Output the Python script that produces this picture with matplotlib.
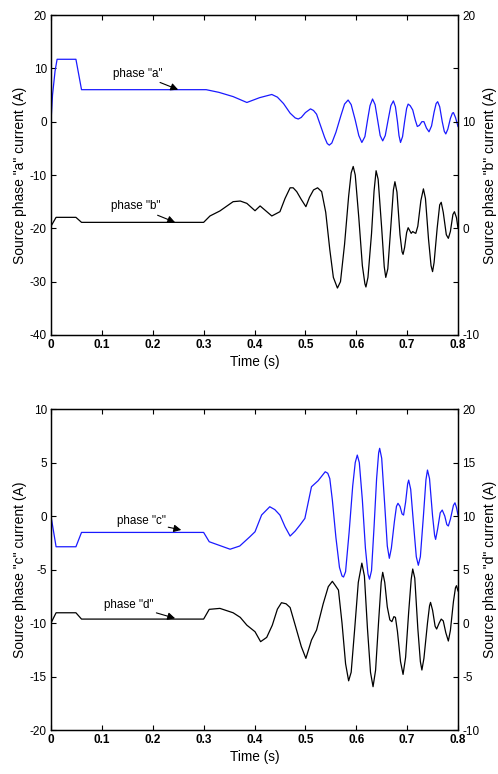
import matplotlib
matplotlib.use("Agg")
import matplotlib.pyplot as plt
import numpy as np

plt.rcParams['font.family'] = ['Liberation Sans', 'DejaVu Sans']
plt.rcParams['font.size'] = 8.5
plt.rcParams['axes.unicode_minus'] = False

# phase "a" (left axis, top panel)
t_a = [0, 0.003, 0.008, 0.012, 0.049, 0.060, 0.305, 0.33, 0.358, 0.385, 0.41, 0.434, 0.445,
       0.457, 0.470, 0.480, 0.486, 0.492, 0.500, 0.510, 0.516, 0.522, 0.530, 0.538, 0.543,
       0.547, 0.552, 0.560, 0.570, 0.577, 0.584, 0.590, 0.598, 0.605, 0.611, 0.617, 0.622,
       0.627, 0.632, 0.637, 0.642, 0.647, 0.652, 0.657, 0.663, 0.668, 0.673, 0.677, 0.681,
       0.684, 0.687, 0.691, 0.695, 0.699, 0.702, 0.706, 0.711, 0.716, 0.720, 0.724, 0.729,
       0.733, 0.738, 0.743, 0.748, 0.753, 0.757, 0.760, 0.764, 0.769, 0.773, 0.776, 0.780,
       0.785, 0.789, 0.791, 0.795, 0.8]
i_a = [0, 5, 9.5, 11.7, 11.7, 6.0, 6.0, 5.5, 4.7, 3.6, 4.5, 5.1, 4.6,
       3.4, 1.6, 0.7, 0.5, 0.8, 1.7, 2.4, 2.1, 1.4, -0.8, -3.0, -4.1,
       -4.4, -4.0, -2.0, 1.2, 3.3, 4.06, 3.2, 0.3, -2.6, -3.9, -2.8, 0.2,
       3.0, 4.25, 3.2, 0.3, -2.6, -3.6, -2.6, 0.5, 3.0, 3.9, 2.8, 0.0,
       -2.6, -3.9, -2.8, 0.0, 2.5, 3.3, 3.0, 2.2, 0.3, -0.9, -0.7, 0.0,
       0.0, -1.2, -1.9, -0.8, 1.8, 3.4, 3.75, 2.8, 0.0, -1.8, -2.3, -1.4,
       0.6, 1.6, 1.7, 0.8, -0.9]

# phase "b" (right axis, top panel)
t_b = [0, 0.01, 0.049, 0.06, 0.30, 0.3125, 0.332, 0.358, 0.372, 0.385, 0.401, 0.411, 0.434,
       0.45, 0.46, 0.47, 0.476, 0.483, 0.492, 0.501, 0.508, 0.516, 0.524, 0.532, 0.540,
       0.548, 0.555, 0.563, 0.569, 0.577, 0.585, 0.590, 0.594, 0.598, 0.605, 0.612, 0.617,
       0.619, 0.623, 0.630, 0.635, 0.639, 0.643, 0.650, 0.655, 0.658, 0.662, 0.668, 0.673,
       0.676, 0.680, 0.686, 0.690, 0.692, 0.695, 0.699, 0.702, 0.705, 0.708, 0.711, 0.714,
       0.717, 0.721, 0.727, 0.732, 0.736, 0.742, 0.747, 0.750, 0.753, 0.759, 0.764, 0.767,
       0.771, 0.777, 0.781, 0.785, 0.790, 0.793, 0.797, 0.8]
i_b = [0.2, 1.03, 1.03, 0.56, 0.56, 1.16, 1.63, 2.5, 2.56, 2.34, 1.65, 2.1, 1.16,
       1.56, 2.8, 3.8, 3.8, 3.44, 2.7, 2.03, 2.9, 3.6, 3.8, 3.44, 1.5,
       -2.0, -4.6, -5.6, -5.0, -1.5, 3.0, 5.2, 5.8, 5.0, 1.0, -3.5, -5.2,
       -5.5, -4.6, -0.5, 3.5, 5.4, 4.6, 0.0, -3.6, -4.6, -3.8, 0.2, 3.6,
       4.37, 3.4, -0.6, -2.2, -2.44, -1.8, -0.4, 0.06, -0.2, -0.47, -0.3, -0.4,
       -0.47, 0.2, 2.6, 3.7, 2.8, -1.0, -3.5, -4.06, -3.2, 0.0, 2.2, 2.44,
       1.5, -0.6, -0.94, -0.3, 1.3, 1.56, 1.0, 0.0]

# phase "c" (left axis, bottom panel)
t_c = [0, 0.01, 0.049, 0.06, 0.30, 0.311, 0.352, 0.371, 0.391, 0.401, 0.414, 0.430, 0.440,
       0.450, 0.460, 0.470, 0.480, 0.490, 0.499, 0.512, 0.525, 0.539, 0.544, 0.548, 0.553,
       0.560, 0.567, 0.572, 0.575, 0.579, 0.586, 0.593, 0.598, 0.602, 0.606, 0.612, 0.618,
       0.623, 0.626, 0.630, 0.635, 0.640, 0.644, 0.646, 0.650, 0.656, 0.661, 0.665, 0.669,
       0.675, 0.679, 0.682, 0.686, 0.690, 0.693, 0.697, 0.701, 0.703, 0.707, 0.713, 0.718,
       0.722, 0.726, 0.732, 0.737, 0.740, 0.744, 0.750, 0.754, 0.756, 0.760, 0.765, 0.769,
       0.774, 0.778, 0.781, 0.785, 0.791, 0.794, 0.797, 0.8]
i_c = [0, -2.87, -2.87, -1.53, -1.53, -2.4, -3.1, -2.8, -1.93, -1.47, 0.1, 0.87, 0.6,
       0.09, -1.0, -1.87, -1.4, -0.8, -0.22, 2.74, 3.3, 4.14, 4.0, 3.5, 1.5,
       -2.0, -4.8, -5.6, -5.7, -5.2, -1.5, 2.8, 5.0, 5.7, 5.0, 1.5, -3.0,
       -5.4, -5.9, -5.1, -1.0, 3.5, 5.9, 6.33, 5.4, 1.0, -2.8, -3.95, -3.0,
       -0.5, 0.9, 1.19, 0.9, 0.2, 0.09, 1.3, 3.0, 3.36, 2.5, -1.0, -3.8,
       -4.6, -3.8, 0.0, 3.4, 4.3, 3.5, 0.0, -1.8, -2.18, -1.2, 0.3, 0.56,
       0.0, -0.8, -0.93, -0.3, 1.0, 1.24, 0.8, 0.09]

# phase "d" (right axis, bottom panel)
t_d = [0, 0.01, 0.049, 0.06, 0.30, 0.311, 0.332, 0.358, 0.372, 0.385, 0.401, 0.412, 0.424,
       0.435, 0.445, 0.453, 0.462, 0.470, 0.480, 0.492, 0.501, 0.512, 0.522, 0.535, 0.545,
       0.553, 0.559, 0.565, 0.572, 0.579, 0.585, 0.590, 0.597, 0.604, 0.611, 0.616, 0.622,
       0.628, 0.633, 0.638, 0.644, 0.649, 0.652, 0.656, 0.661, 0.666, 0.670, 0.674, 0.677,
       0.681, 0.687, 0.692, 0.697, 0.703, 0.708, 0.711, 0.715, 0.721, 0.726, 0.729, 0.733,
       0.740, 0.744, 0.746, 0.750, 0.755, 0.758, 0.763, 0.767, 0.771, 0.776, 0.781, 0.785,
       0.791, 0.795, 0.797, 0.8]
i_d = [0, 0.96, 0.96, 0.37, 0.37, 1.28, 1.37, 0.96, 0.53, -0.2, -0.81, -1.74, -1.34,
       -0.2, 1.3, 1.9, 1.8, 1.45, -0.2, -2.2, -3.3, -1.59, -0.65, 1.8, 3.4,
       3.9, 3.5, 3.08, 0.0, -3.8, -5.4, -4.6, -0.5, 3.8, 5.6, 4.4, -0.5,
       -4.6, -5.95, -4.4, 0.2, 3.8, 4.74, 3.8, 1.5, 0.3, 0.13, 0.6, 0.53,
       -0.8, -3.6, -4.8, -3.2, 1.0, 4.1, 5.05, 4.2, -0.5, -3.6, -4.39, -3.3,
       0.0, 1.6, 1.93, 1.2, -0.3, -0.56, 0.0, 0.37, 0.2, -0.9, -1.68, -0.7,
       2.0, 3.3, 3.49, 3.0]

x_ticks = [0, 0.1, 0.2, 0.3, 0.4, 0.5, 0.6, 0.7, 0.8]
x_labels = ['0', '0.1', '0.2', '0.3', '0.4', '0.5', '0.6', '0.7', '0.8']


def style_axes(ax, ax2):
    ax.set_xlim(0, 0.8)
    ax.set_xticks(x_ticks)
    ax.set_xticklabels(x_labels, fontweight='bold')
    ax.tick_params(axis='x', direction='in', top=True, length=3.5, width=0.8, pad=3)
    ax.tick_params(axis='y', direction='in', right=False, length=3.5, width=0.8, pad=3)
    ax2.tick_params(axis='y', direction='in', length=3.5, width=0.8, pad=3)
    for a in (ax, ax2):
        for s in a.spines.values():
            s.set_linewidth(0.9)
    ax.set_xlabel('Time (s)', fontsize=9.8, labelpad=3)


fig = plt.figure(figsize=(4.98, 7.74), dpi=100)
arrow = dict(arrowstyle='-|>', color='black', lw=0.8, mutation_scale=11, shrinkA=0, shrinkB=0)

# top panel
ax1 = fig.add_axes([0.1024, 0.5672, 0.8173, 0.4134])
ax1b = ax1.twinx()
ax1.plot(t_a, i_a, color='#1a1aff', lw=0.9)
ax1b.plot(t_b, i_b, color='black', lw=0.9)
ax1.set_ylim(-40, 20)
ax1.set_yticks(np.arange(-40, 21, 10))
ax1b.set_ylim(-10, 20)
ax1b.set_yticks(np.arange(-10, 21, 5))
ax1b.set_yticklabels(['-10', '', '0', '', '10', '', '20'])
style_axes(ax1, ax1b)
ax1.set_ylabel('Source phase "a" current (A)', fontsize=10, labelpad=2)
ax1b.set_ylabel('Source phase "b" current (A)', fontsize=10, labelpad=3, rotation=90)
ax1.annotate('phase "a"', xy=(0.25, 6.0), xytext=(0.171, 9.0), ha='center', va='center',
             fontsize=8.4, arrowprops=arrow)
ax1b.annotate('phase "b"', xy=(0.244, 0.56), xytext=(0.167, 2.05), ha='center', va='center',
              fontsize=8.4, arrowprops=arrow)

# bottom panel
ax2 = fig.add_axes([0.1024, 0.0568, 0.8173, 0.4147])
ax2b = ax2.twinx()
ax2.plot(t_c, i_c, color='#1a1aff', lw=0.9)
ax2b.plot(t_d, i_d, color='black', lw=0.9)
ax2.set_ylim(-20, 10)
ax2.set_yticks(np.arange(-20, 11, 5))
ax2b.set_ylim(-10, 20)
ax2b.set_yticks(np.arange(-10, 21, 5))
style_axes(ax2, ax2b)
ax2.set_ylabel('Source phase "c" current (A)', fontsize=10, labelpad=2)
ax2b.set_ylabel('Source phase "d" current (A)', fontsize=10, labelpad=3, rotation=90)
ax2.annotate('phase "c"', xy=(0.256, -1.3), xytext=(0.177, -0.5), ha='center', va='center',
             fontsize=8.4, arrowprops=arrow)
ax2b.annotate('phase "d"', xy=(0.244, 0.44), xytext=(0.153, 1.7), ha='center', va='center',
              fontsize=8.4, arrowprops=arrow)

fig.savefig('out.png', dpi=100)
